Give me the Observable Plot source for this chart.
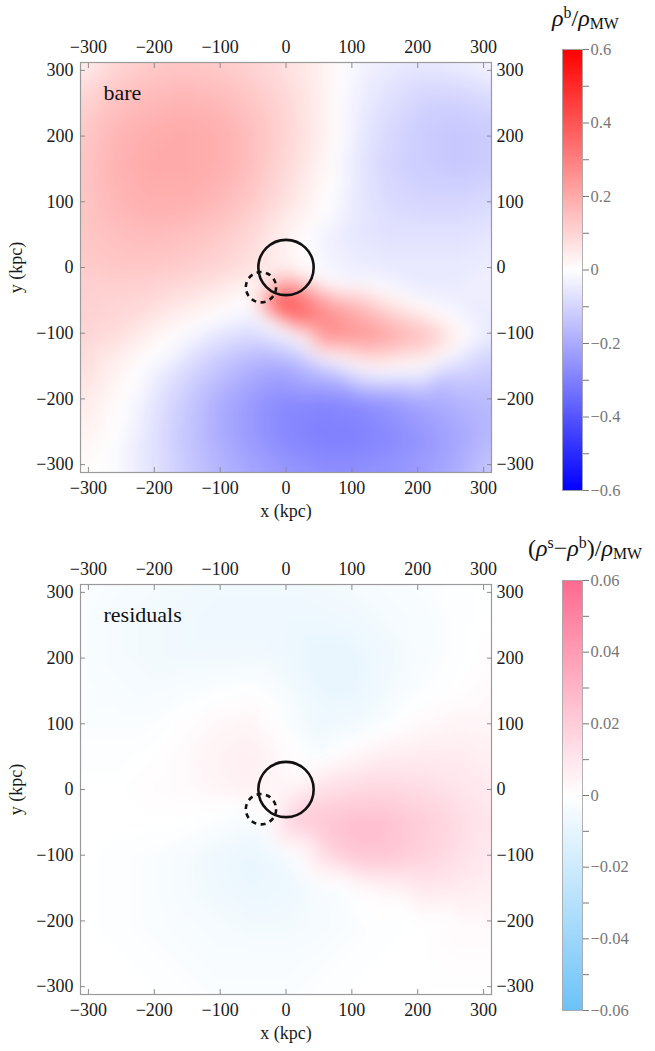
<!DOCTYPE html>
<html><head><meta charset="utf-8">
<script src="https://cdn.jsdelivr.net/npm/d3@7"></script>
<script src="https://cdn.jsdelivr.net/npm/@observablehq/plot@0.6"></script>
<style>
body{margin:0;background:#fff;}
#root{position:relative;width:655px;height:1051px;font-family:"Liberation Serif",serif;overflow:hidden;}
#root > div.p{position:absolute;}
#root svg, #root svg text, #root svg tspan{font-family:"Liberation Serif","Times New Roman",serif !important;font-variant:normal !important;}
.cbt{position:absolute;font-size:24px;line-height:1;white-space:nowrap;color:#111;}
.cbt i{font-style:italic;}
.cbt .sp{position:relative;top:-0.48em;font-size:0.66em;}
.cbt .sb{position:relative;top:0.22em;font-size:0.66em;}
</style></head>
<body><div id="root"></div>
<script>
// grid positions (kpc)
const xs = [-312,-260,-208,-156,-104,-52,0,52,104,156,208,260,312];
const ys = [312,260,208,156,104,52,0,-52,-104,-156,-208,-260,-312];

// bare: rho_b / rho_MW, rows follow ys, columns follow xs
const bare = [
  [0.03, 0.09, 0.12, 0.13, 0.12, 0.10, 0.07, 0.04, -0.02, -0.04, -0.05, -0.04, -0.02],
  [0.09, 0.14, 0.16, 0.17, 0.16, 0.13, 0.09, 0.04, -0.03, -0.07, -0.10, -0.10, -0.08],
  [0.12, 0.17, 0.19, 0.20, 0.19, 0.15, 0.10, 0.04, -0.04, -0.09, -0.12, -0.13, -0.12],
  [0.13, 0.18, 0.20, 0.20, 0.19, 0.15, 0.09, 0.03, -0.05, -0.10, -0.12, -0.13, -0.12],
  [0.13, 0.17, 0.19, 0.19, 0.17, 0.13, 0.07, 0.01, -0.05, -0.09, -0.10, -0.10, -0.09],
  [0.13, 0.15, 0.16, 0.15, 0.13, 0.09, 0.03, -0.03, -0.06, -0.07, -0.07, -0.07, -0.06],
  [0.12, 0.13, 0.13, 0.12, 0.10, 0.07, 0.03, -0.02, -0.04, -0.05, -0.05, -0.05, -0.04],
  [0.11, 0.10, 0.09, 0.06, 0.03, 0.00, 0.38, 0.24, 0.15, 0.05, -0.01, -0.04, -0.04],
  [0.10, 0.08, 0.03, -0.01, -0.06, -0.09, -0.03, 0.26, 0.25, 0.22, 0.17, 0.03, -0.05],
  [0.08, 0.03, -0.02, -0.08, -0.14, -0.19, -0.21, -0.15, -0.04, 0.00, -0.01, -0.09, -0.12],
  [0.05, 0.01, -0.05, -0.12, -0.19, -0.24, -0.28, -0.29, -0.28, -0.25, -0.21, -0.18, -0.16],
  [0.03, 0.00, -0.06, -0.13, -0.19, -0.24, -0.28, -0.30, -0.30, -0.28, -0.25, -0.21, -0.16],
  [0.01, -0.01, -0.06, -0.12, -0.17, -0.21, -0.24, -0.26, -0.26, -0.25, -0.23, -0.19, -0.12]
];
// extra read-off points (ridges and white zero-bands) [x], [y], [value]
const bareExtraX = [-10, 20, 50, 100, 150, 200, 240,
  0, -20, 10, 30,
  35, 45, 80, 145, 209, 260, 278,
  -38, 0, 30, 80, 145, 209, 255,
  100, 200, 285, 30, 90, 160, 240, 295,
  -55, -100, -158, -195, -222, -248, -267, -278,
  40, 62, 76, 82, 82, 80,
  -20, 0];
const bareExtraY = [-50, -65, -80, -95, -105, -105, -105,
  -45, -60, -75, -50,
  -30, -15, -33, -38, -57, -80, -104,
  -70, -92, -108, -140, -157, -153, -128,
  -15, -30, -70, -140, -180, -195, -170, -120,
  -48, -72, -100, -140, -177, -225, -273, -312,
  38, 75, 130, 200, 260, 312,
  -15, 20];
const bareExtraV = [0.42, 0.36, 0.29, 0.25, 0.22, 0.16, 0.09,
  0.40, 0.38, 0.37, 0.32,
  0.14, 0.00, 0.00, 0.00, 0.00, 0.00, 0.00,
  0.00, 0.00, 0.00, 0.00, 0.00, 0.00, 0.00,
  -0.04, -0.05, -0.05, -0.12, -0.20, -0.20, -0.15, -0.07,
  0.00, 0.00, 0.00, 0.00, 0.00, 0.00, 0.00, 0.00,
  0.00, 0.00, 0.00, 0.00, 0.00, 0.00,
  0.05, 0.03];

// residuals: (rho_s - rho_b) / rho_MW
const resid = [
  [-0.001,-0.003,-0.004,-0.005,-0.006,-0.006,-0.006,-0.005,-0.004,-0.003,-0.002,-0.001, 0.000],
  [-0.002,-0.004,-0.005,-0.006,-0.007,-0.007,-0.007,-0.007,-0.006,-0.004,-0.003,-0.001, 0.000],
  [-0.002,-0.004,-0.005,-0.006,-0.006,-0.006,-0.007,-0.009,-0.009,-0.006,-0.003,-0.001, 0.001],
  [-0.002,-0.003,-0.004,-0.003,-0.002,-0.001,-0.004,-0.009,-0.009,-0.005,-0.002, 0.000, 0.002],
  [-0.002,-0.002,-0.002, 0.000, 0.003, 0.004,-0.002,-0.008,-0.006,-0.002, 0.002, 0.004, 0.004],
  [-0.001,-0.001, 0.000, 0.002, 0.005, 0.007, 0.002,-0.003, 0.003, 0.007, 0.008, 0.008, 0.006],
  [ 0.000, 0.000, 0.001, 0.002, 0.004, 0.006, 0.004, 0.012, 0.015, 0.016, 0.014, 0.011, 0.008],
  [ 0.000, 0.000, 0.000, 0.000,-0.002,-0.004, 0.018, 0.023, 0.026, 0.025, 0.020, 0.015, 0.010],
  [ 0.000,-0.001,-0.002,-0.004,-0.007,-0.009,-0.005, 0.012, 0.022, 0.022, 0.018, 0.013, 0.008],
  [ 0.000,-0.001,-0.002,-0.004,-0.006,-0.008,-0.007,-0.004,-0.001, 0.003, 0.009, 0.008, 0.006],
  [ 0.000,-0.001,-0.002,-0.003,-0.004,-0.005,-0.005,-0.004,-0.002,-0.001, 0.000, 0.002, 0.002],
  [ 0.000, 0.000,-0.001,-0.002,-0.003,-0.003,-0.003,-0.002,-0.001, 0.000, 0.000, 0.001, 0.001],
  [ 0.000, 0.000, 0.000,-0.001,-0.002,-0.002,-0.002,-0.001, 0.000, 0.000, 0.000, 0.000, 0.000]
];
const residExtraX = [30, 112, 200, 280, -16, 29, 93, 177, 250, -40, 0, 50, 60, 40, 20];
const residExtraY = [-45, -57, -55, -45, -46, -97, -138, -168, -190, -80, -125, -165, 120, 60, 20];
const residExtraV = [0.022, 0.027, 0.021, 0.012, 0.000, 0.000, 0.000, 0.000, 0.000, -0.007, -0.007, -0.004, -0.007, -0.003, 0.000];

// axis ticks and colour bars
const axisTicks = [-300, -200, -100, 0, 100, 200, 300];
const bareBarTicks = [-0.6, -0.5, -0.4, -0.3, -0.2, -0.1, 0, 0.1, 0.2, 0.3, 0.4, 0.5, 0.6];
const bareBarLabels = [-0.6, -0.4, -0.2, 0, 0.2, 0.4, 0.6];
const residBarTicks = [-0.06, -0.05, -0.04, -0.03, -0.02, -0.01, 0, 0.01, 0.02, 0.03, 0.04, 0.05, 0.06];
const residBarLabels = [-0.06, -0.04, -0.02, 0, 0.02, 0.04, 0.06];

// circles (centre x, y and radius in kpc)
const circleX = [0, -38];
const circleY = [0, -30];
const circleR = [42, 23];
const circleDashed = [false, true];

const bareColor = {type: "linear", domain: [-0.6, 0, 0.6], range: ["#0000ff", "#ffffff", "#ff0000"], interpolate: "rgb"};
const residColor = {type: "linear", domain: [-0.06, 0, 0.06], range: ["#6cc2f8", "#ffffff", "#ff6a90"], interpolate: "rgb"};

const FONT = "'Liberation Serif', 'Times New Roman', serif";
const fmt = d => String(d).replace("-", "\u2212");

function points(values, ex, ey, ev) {
  const pts = [];
  ys.forEach((y, i) => xs.forEach((x, j) => pts.push({x, y, v: values[i][j]})));
  ex.forEach((x, k) => pts.push({x, y: ey[k], v: ev[k]}));
  return pts;
}

function panel(values, ex, ey, ev, colorScale, name) {
  const pts = points(values, ex, ey, ev);
  const circles = circleX.map((x, i) => ({x, y: circleY[i], r: circleR[i], dashed: circleDashed[i]}));
  const tk = {stroke: "#8c8c8c", fill: "none", tickSize: 5, label: null};
  const tl = {tickSize: 0, tickFormat: fmt, fontFamily: FONT, fill: "#1a1a1a"};
  return Plot.plot({
    width: 540, height: 522,
    marginLeft: 80, marginRight: 49, marginTop: 62, marginBottom: 50,
    x: {domain: [-312, 312]},
    y: {domain: [-312, 312]},
    r: {type: "linear", domain: [0, 624], range: [0, 411]},
    color: colorScale,
    style: {fontFamily: FONT, fontSize: "18px", color: "#222", background: "transparent"},
    marks: [
      Plot.raster(pts, {x: "x", y: "y", fill: "v", interpolate: "barycentric", pixelSize: 1, blur: 8}),
      Plot.frame({stroke: "#9a9a9a", strokeWidth: 1.2}),
      Plot.axisX(axisTicks, {...tk, anchor: "bottom", dy: -5}),
      Plot.axisX(axisTicks, {...tk, anchor: "top", dy: 5}),
      Plot.axisY(axisTicks, {...tk, anchor: "left", dx: 5}),
      Plot.axisY(axisTicks, {...tk, anchor: "right", dx: -5}),
      Plot.axisX(axisTicks, {...tl, anchor: "bottom", tickPadding: 9, label: "x (kpc)", labelAnchor: "center", labelArrow: "none", labelOffset: 44}),
      Plot.axisX(axisTicks, {...tl, anchor: "top", tickPadding: 10, label: null}),
      Plot.axisY(axisTicks, {...tl, anchor: "left", tickPadding: 7, label: "y (kpc)", labelAnchor: "center", labelArrow: "none", labelOffset: 71}),
      Plot.axisY(axisTicks, {...tl, anchor: "right", tickPadding: 5, label: null}),
      Plot.dot(circles.filter(d => !d.dashed), {x: "x", y: "y", r: "r", stroke: "#111", strokeWidth: 2.6}),
      Plot.dot(circles.filter(d => d.dashed), {x: "x", y: "y", r: "r", stroke: "#111", strokeWidth: 2.6, strokeDasharray: "5,4.5"}),
      Plot.text([name], {frameAnchor: "top-left", dx: 23, dy: 30, lineAnchor: "middle", textAnchor: "start", fontSize: 22, fontFamily: FONT, fill: "#111"})
    ]
  });
}

function colorbar(colorScale, lo, hi, ticks, labels, mTop, barH) {
  return Plot.plot({
    width: 93, height: mTop + barH + 12,
    marginLeft: 0, marginRight: 73, marginTop: mTop, marginBottom: 12,
    x: {domain: [0, 1], axis: null},
    y: {domain: [lo, hi]},
    color: colorScale,
    style: {fontFamily: FONT, fontSize: "16.5px", color: "#777", background: "transparent"},
    marks: [
      Plot.raster({x1: 0, x2: 1, y1: lo, y2: hi, width: 1, height: 400, fill: (x, y) => y, imageRendering: "auto"}),
      Plot.frame({stroke: "#a0a0a0", strokeWidth: 0.8}),
      Plot.axisY(ticks, {anchor: "right", tickSize: 6, fill: "none", stroke: "#777", label: null}),
      Plot.axisY(labels, {anchor: "right", tickSize: 0, tickPadding: 8, tickFormat: fmt, fontFamily: FONT, stroke: "none", fill: "#777", label: null})
    ]
  });
}

const root = document.getElementById("root");
function place(el, left, top) {
  const d = document.createElement("div");
  d.className = "p";
  d.style.left = left + "px";
  d.style.top = top + "px";
  d.appendChild(el);
  root.appendChild(d);
}

place(panel(bare, bareExtraX, bareExtraY, bareExtraV, bareColor, "bare"), 0, 0);
place(panel(resid, residExtraX, residExtraY, residExtraV, residColor, "residuals"), 0, 522);
place(colorbar(bareColor, -0.6, 0.6, bareBarTicks, bareBarLabels, 49, 441), 562, 0);
place(colorbar(residColor, -0.06, 0.06, residBarTicks, residBarLabels, 58, 430), 562, 522);

const t1 = document.createElement("div");
t1.className = "cbt";
t1.style.left = "552px"; t1.style.top = "6px";
t1.innerHTML = '<i>ρ</i><span class="sp">b</span>/<i>ρ</i><span class="sb">MW</span>';
root.appendChild(t1);
const t2 = document.createElement("div");
t2.className = "cbt";
t2.style.left = "528px"; t2.style.top = "536px";
t2.innerHTML = '(<i>ρ</i><span class="sp">s</span>−<i>ρ</i><span class="sp">b</span>)/<i>ρ</i><span class="sb">MW</span>';
root.appendChild(t2);
</script>
</body></html>
